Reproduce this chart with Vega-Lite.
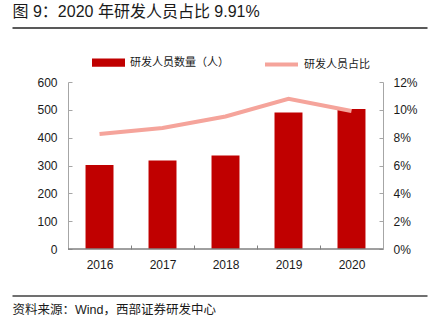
{
  "$schema": "https://vega.github.io/schema/vega-lite/v6.json",
  "width": 415,
  "height": 167,
  "autosize": {"type": "none"},
  "padding": {"left": 12, "top": 82, "right": 5, "bottom": 77},
  "background": "white",
  "data": {
    "values": [
      {"year": "2016", "count": 302, "pct": 0.0826},
      {"year": "2017", "count": 318, "pct": 0.0869},
      {"year": "2018", "count": 336, "pct": 0.0952},
      {"year": "2019", "count": 490, "pct": 0.1079},
      {"year": "2020", "count": 503, "pct": 0.0991}
    ]
  },
  "layer": [
    {
      "mark": {"type": "bar", "width": {"band": 0.444}},
      "encoding": {
        "x": {
          "field": "year",
          "type": "ordinal",
          "scale": {"domain": ["2016", "2017", "2018", "2019", "2020"], "paddingInner": 0, "paddingOuter": 0.794, "align": 0.56},
          "axis": {
            "orient": "bottom",
            "title": null,
            "domain": false,
            "tickBand": "extent",
            "tickSize": -4,
            "tickColor": "#808080",
            "labelPadding": 14,
            "labelAngle": 0,
            "labelFontSize": 12,
            "labelColor": "#1a1a1a",
            "labelFont": "Liberation Sans"
          }
        },
        "y": {
          "field": "count",
          "type": "quantitative",
          "scale": {"domain": [0, 600]},
          "axis": {
            "orient": "left",
            "offset": -56,
            "values": [0, 100, 200, 300, 400, 500, 600],
            "title": null,
            "grid": false,
            "domainColor": "#a6a6a6",
            "tickColor": "#a6a6a6",
            "tickSize": -4,
            "labelPadding": 15,
            "labelFontSize": 12,
            "labelColor": "#1a1a1a",
            "labelFont": "Liberation Sans"
          }
        },
        "color": {
          "datum": "研发人员数量（人）",
          "scale": {"range": ["#C00000"]},
          "legend": {
            "orient": "none",
            "legendX": 80,
            "legendY": -36,
            "title": null,
            "padding": 0,
            "symbolType": "M-1,-0.25H1V0.25H-1Z",
            "symbolSize": 1089,
            "symbolStrokeWidth": 0,
            "labelOffset": 5,
            "labelFontSize": 11,
            "labelColor": "#1a1a1a",
            "labelFont": "Noto Sans CJK SC"
          }
        }
      }
    },
    {
      "mark": {"type": "line", "strokeWidth": 4, "strokeCap": "butt"},
      "encoding": {
        "x": {
          "field": "year",
          "type": "ordinal",
          "axis": null
        },
        "y": {
          "field": "pct",
          "type": "quantitative",
          "scale": {"domain": [0, 0.12]},
          "axis": {
            "orient": "right",
            "offset": -44,
            "format": ".0%",
            "values": [0, 0.02, 0.04, 0.06, 0.08, 0.1, 0.12],
            "title": null,
            "grid": false,
            "domainColor": "#a6a6a6",
            "tickColor": "#a6a6a6",
            "tickSize": -4,
            "labelPadding": 14,
            "labelFontSize": 12,
            "labelColor": "#1a1a1a",
            "labelFont": "Liberation Sans"
          }
        },
        "color": {
          "datum": "研发人员占比",
          "scale": {"range": ["#F5A49B"]},
          "legend": {
            "orient": "none",
            "legendX": 251,
            "legendY": -36,
            "title": null,
            "padding": 0,
            "symbolType": "stroke",
            "symbolSize": 1089,
            "symbolStrokeWidth": 4,
            "labelOffset": 4,
            "labelFontSize": 11,
            "labelColor": "#1a1a1a",
            "labelFont": "Noto Sans CJK SC"
          }
        }
      }
    },
    {
      "data": {"values": [{}]},
      "mark": {"type": "rule", "color": "#808080", "strokeWidth": 1},
      "encoding": {
        "x": {
          "datum": "2016",
          "type": "ordinal",
          "bandPosition": 0,
          "axis": {
            "orient": "bottom",
            "offset": 46.5,
            "domain": true,
            "domainColor": "#404040",
            "domainWidth": 1.5,
            "labels": false,
            "ticks": false,
            "title": "资料来源：Wind，西部证券研发中心",
            "titleAnchor": "start",
            "titleAlign": "left",
            "titleBaseline": "top",
            "titlePadding": 8,
            "titleFontSize": 12.5,
            "titleFontWeight": "normal",
            "titleColor": "#1a1a1a",
            "titleFont": "Liberation Sans, Noto Sans CJK SC"
          }
        },
        "x2": {"datum": "2020", "bandPosition": 1},
        "y": {"datum": 0, "type": "quantitative", "scale": {"domain": [0, 1]}, "axis": null}
      }
    },
    {
      "data": {"values": [{}]},
      "mark": {"type": "rule", "color": "#808080", "strokeWidth": 1},
      "encoding": {
        "x": {
          "datum": "2016",
          "type": "ordinal",
          "bandPosition": 0,
          "axis": {
            "orient": "bottom",
            "offset": -221.5,
            "zindex": 1,
            "domain": true,
            "domainColor": "#595959",
            "domainWidth": 2,
            "labels": false,
            "ticks": false,
            "title": "图 9：2020 年研发人员占比 9.91%",
            "titleX": 0,
            "titleY": -8,
            "titleAlign": "left",
            "titleAnchor": "start",
            "titleBaseline": "bottom",
            "titleFontSize": 16,
            "titleFontWeight": "normal",
            "titleColor": "#1a1a1a",
            "titleFont": "Liberation Sans, Noto Sans CJK SC"
          }
        },
        "x2": {"datum": "2020", "bandPosition": 1},
        "y": {"datum": 0, "type": "quantitative", "scale": {"domain": [0, 1]}, "axis": null}
      }
    }
  ],
  "resolve": {
    "scale": {"y": "independent", "color": "independent"},
    "axis": {"x": "independent", "y": "independent"},
    "legend": {"color": "independent"}
  },
  "config": {"view": {"stroke": null}}
}
